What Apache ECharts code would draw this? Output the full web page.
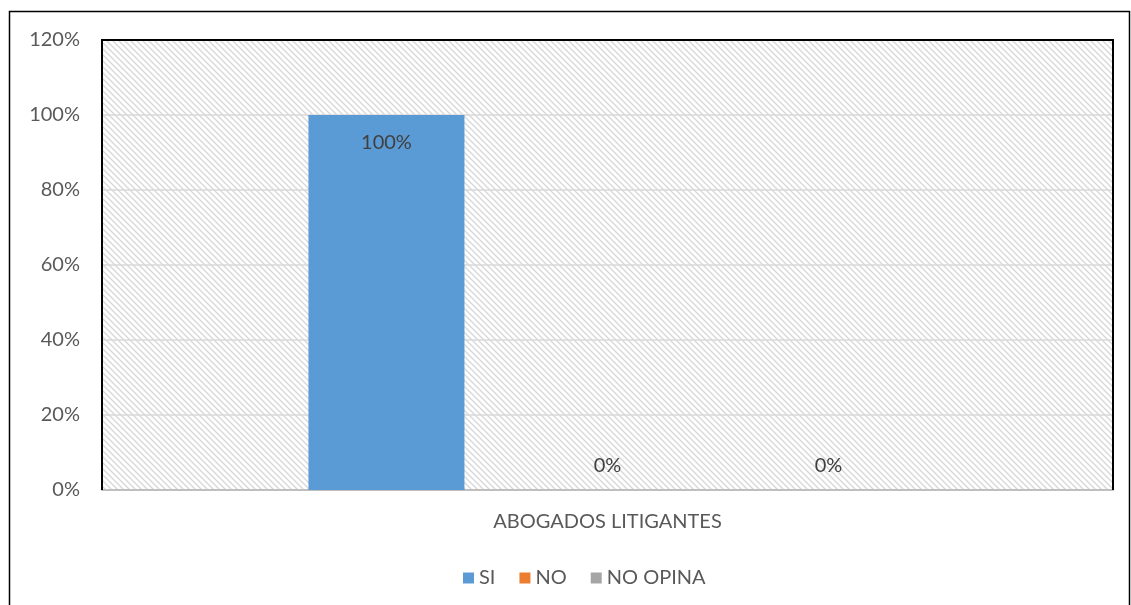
<!DOCTYPE html>
<html>
<head>
<meta charset="utf-8">
<script src="https://cdn.jsdelivr.net/npm/echarts@6/dist/echarts.min.js"></script>
<style>
  html, body { margin: 0; padding: 0; background: #fff; }
  #chart { width: 1131px; height: 605px; }
</style>
</head>
<body>
<div id="chart"></div>
<script>
// data
const categories = ['ABOGADOS LITIGANTES'];
const seriesNames = ['SI', 'NO', 'NO OPINA'];
const siValues = [1.0];
const noValues = [0];
const noOpinaValues = [0];
const yTicks = [0, 0.2, 0.4, 0.6, 0.8, 1.0, 1.2];

const colors = ['#5B9BD5', '#ED7D31', '#A5A5A5'];
const font = 'Lato, "Open Sans", sans-serif';
const fs = 20;

// plot box
const gLeft = 102, gRight = 18, gTop = 40, gBottom = 115;

// diagonal hatch for the plot area
function hatch() {
  const c = document.createElement('canvas');
  c.width = 6; c.height = 6;
  const ctx = c.getContext('2d');
  ctx.fillStyle = '#ffffff';
  ctx.fillRect(0, 0, 6, 6);
  ctx.strokeStyle = '#d6d6d6';
  ctx.lineWidth = 1.3;
  ctx.beginPath();
  ctx.moveTo(-1, -1); ctx.lineTo(7, 7);
  ctx.moveTo(-7, -1); ctx.lineTo(1, 7);
  ctx.moveTo(5, -1); ctx.lineTo(13, 7);
  ctx.stroke();
  return { image: c, repeat: 'repeat' };
}

const pct = p => Math.round(p.value * 100) + '%';

const chart = echarts.init(document.getElementById('chart'));

const allValues = [siValues, noValues, noOpinaValues];
const W = 1131, H = 605;
chart.setOption({
  animation: false,
  textStyle: { fontFamily: font },
  grid: {
    left: gLeft, right: gRight, top: gTop, bottom: gBottom,
    show: true,
    backgroundColor: hatch(),
    borderWidth: 0
  },
  legend: {
    data: seriesNames,
    bottom: 12,
    left: 458,
    itemWidth: 11,
    itemHeight: 11,
    itemGap: 24,
    icon: 'rect',
    textStyle: { fontSize: fs, color: '#595959', fontFamily: font }
  },
  xAxis: {
    type: 'category',
    data: categories,
    axisLine: { lineStyle: { color: '#bfbfbf', width: 2 } },
    axisTick: { show: false },
    axisLabel: { fontSize: fs, color: '#595959', margin: 22 }
  },
  yAxis: {
    type: 'value',
    min: 0,
    max: 1.2,
    interval: 0.2,
    axisLine: { show: false },
    axisTick: { show: false },
    splitLine: { lineStyle: { color: '#d9d9d9', width: 1.5 } },
    axisLabel: {
      fontSize: fs, color: '#595959', margin: 22,
      formatter: v => yTicks.includes(Math.round(v * 10) / 10) ? Math.round(v * 100) + '%' : ''
    }
  },
  series: seriesNames.map((name, i) => ({
    name: name,
    type: 'bar',
    data: allValues[i],
    barWidth: 156,
    barGap: '41.7%',
    itemStyle: { color: colors[i] },
    label: {
      show: true,
      formatter: pct,
      position: i === 0 ? 'insideTop' : 'top',
      distance: i === 0 ? 18 : 14,
      fontSize: fs,
      color: '#404040'
    }
  })),
  graphic: [{
    type: 'polyline',
    z: 100,
    shape: { points: [[gLeft, H - gBottom], [gLeft, gTop], [W - gRight, gTop], [W - gRight, H - gBottom]] },
    style: { fill: 'none', stroke: '#000', lineWidth: 2 },
    silent: true
  }, {
    type: 'rect',
    z: 100,
    shape: { x: 9.5, y: 11.5, width: 1120, height: 600 },
    style: { fill: 'none', stroke: '#000', lineWidth: 1.5 },
    silent: true
  }]
});
</script>
</body>
</html>
